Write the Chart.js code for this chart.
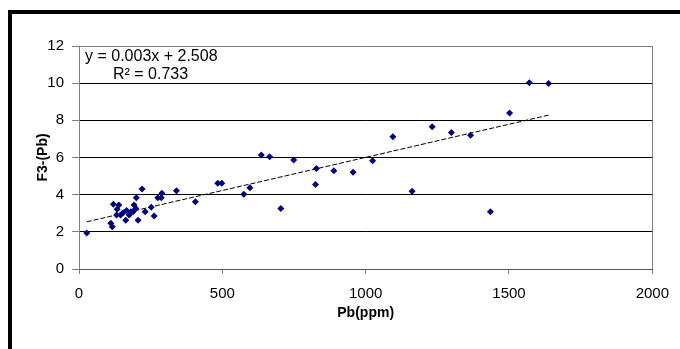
<!DOCTYPE html>
<html>
<head>
<meta charset="utf-8">
<script src="https://cdn.jsdelivr.net/npm/chart.js@4/dist/chart.umd.min.js"></script>
<style>
  html, body { margin:0; padding:0; background:#fff; overflow:hidden; width:680px; height:349px; }
  #frame { position:absolute; left:8px; top:10px; width:800px; height:500px; border:4px solid #000; box-sizing:border-box; }
  #wrap { position:absolute; left:0; top:0; width:680px; height:349px; }
</style>
</head>
<body>
<div id="frame"></div>
<div id="wrap"><canvas id="c" width="680" height="349"></canvas></div>
<script>
// Data
const pbPpm = [27,111,116,120,133,139,131,145,154,163,166,175,181,189,192,200,198,206,220,231,252,262,275,287,289,340,406,484,498,575,596,636,665,704,749,825,828,889,956,1024,1095,1162,1232,1299,1366,1435,1502,1571,1638];
const f3Pb = [1.94,2.46,2.28,3.49,3.21,3.44,2.90,2.90,3.03,2.63,3.15,2.90,3.08,3.08,3.44,3.83,3.26,2.63,4.30,3.08,3.32,2.85,3.83,3.83,4.07,4.21,3.62,4.61,4.61,4.02,4.37,6.13,6.04,3.26,5.86,4.55,5.41,5.29,5.20,5.82,7.11,4.19,7.65,7.35,7.20,3.08,8.40,10.02,9.98];
const trendX = [27, 1638];
const trendY = [2.54, 8.28];
const equationLines = ['y = 0.003x + 2.508', 'R\u00B2 = 0.733'];
const xTitle = 'Pb(ppm)';
const yTitle = 'F3-(Pb)';

const FONT = "'Liberation Sans', Arial, sans-serif";
const GRAY = '#808080';

const eqPlugin = {
  id: 'eq',
  afterDraw(chart) {
    const ctx = chart.ctx;
    ctx.save();
    ctx.fillStyle = '#000';
    ctx.font = '16px ' + FONT;
    ctx.textBaseline = 'middle';
    ctx.textAlign = 'left';
    ctx.fillText(equationLines[0], 85, 57);
    ctx.fillText(equationLines[1], 113, 75);
    ctx.restore();
  }
};

new Chart(document.getElementById('c'), {
  type: 'scatter',
  data: {
    datasets: [
      {
        label: 'F3-(Pb)',
        data: pbPpm.map((x, i) => ({ x: x, y: f3Pb[i] })),
        pointStyle: 'rectRot',
        pointRadius: 3.5,
        backgroundColor: '#000080',
        borderColor: '#000080',
        borderWidth: 0
      },
      {
        type: 'line',
        label: 'Linear',
        data: trendX.map((x, i) => ({ x: x, y: trendY[i] })),
        borderColor: '#000',
        borderWidth: 1,
        borderDash: [5, 2],
        pointRadius: 0,
        fill: false
      }
    ]
  },
  options: {
    responsive: false,
    animation: false,
    layout: { padding: { top: 46, right: 25, left: 0, bottom: 0 } },
    plugins: { legend: { display: false }, tooltip: { enabled: false } },
    scales: {
      x: {
        type: 'linear', min: 0, max: 2000,
        ticks: { stepSize: 500, color: '#000', padding: 11, font: { family: FONT, size: 15 }, callback: v => String(v) },
        grid: {
          drawOnChartArea: true,
          color: c => (c.tick && c.tick.value === 2000) ? GRAY : 'rgba(0,0,0,0)',
          tickColor: GRAY, tickLength: 5
        },
        border: { color: '#555', width: 1 },
        title: { display: true, text: xTitle, color: '#000', font: { family: FONT, size: 14, weight: 'bold' }, padding: { top: 0, bottom: 27 } },
        afterFit(s) { s.height = 80; }
      },
      y: {
        min: 0, max: 12,
        ticks: { stepSize: 2, color: '#000', padding: 8, font: { family: FONT, size: 15 } },
        grid: {
          color: c => (c.tick && (c.tick.value === 0 || c.tick.value === 12)) ? GRAY : '#000',
          tickColor: GRAY, tickLength: 7
        },
        border: { color: GRAY, width: 1 },
        title: { display: true, text: yTitle, color: '#000', font: { family: FONT, size: 14, weight: 'bold' }, padding: { top: 35, bottom: 0 } },
        afterFit(s) { s.width = 79; }
      }
    }
  },
  plugins: [eqPlugin]
});
</script>
</body>
</html>
